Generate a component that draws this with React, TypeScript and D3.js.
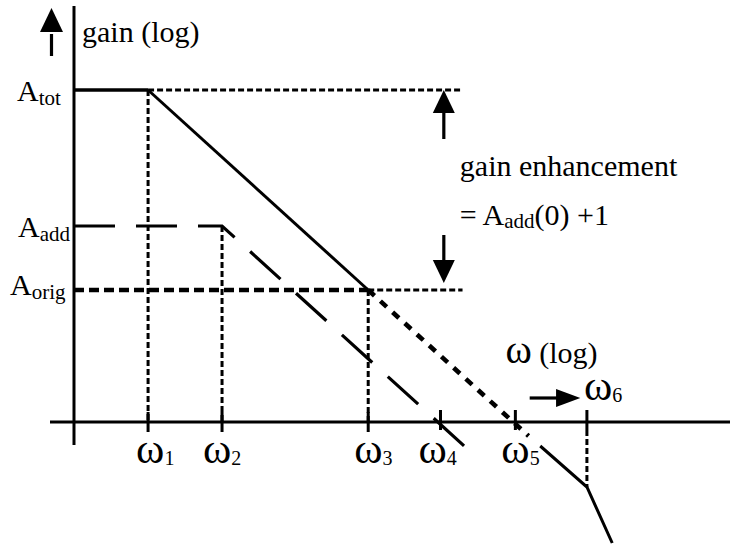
import React from 'react';
import * as d3 from 'd3';

// log10 of the break frequencies ω1..ω6
const omegaNames = ['1', '2', '3', '4', '5', '6'];
const omegaLog = [0.673, 1.345, 2.673, 3.33, 4.01, 4.66];
// log10 of the gain levels
const levelNames = ['tot', 'add', 'orig'];
const levelLog = [3.32, 1.96, 1.32];
// asymptotic curves: [log10 ω, log10 gain]
const totalCurve: [number, number][] = [[0, 3.32], [0.673, 3.32], [2.673, 1.32]];
const addCurve: [number, number][] = [[0, 1.96], [1.345, 1.96], [3.555, -0.25]];
const origTail: [number, number][] = [[2.673, 1.32], [4.13, -0.14]];
const hfCurve: [number, number][] = [[4.236, -0.24], [4.66, -0.65], [4.89, -1.21]];
const yTitle = 'gain (log)';
const xTitle = ' (log)';
const noteTitle = 'gain enhancement';

const W = 730;
const H = 545;
const serif = "'Liberation Serif','Times New Roman',serif";

// label layout (pixels)
const omegaDx = [-12, -19, -14, -22, -14, -3];
const levelX = [17, 18, 10];

export default function App() {
  const x = d3.scaleLinear().domain([-0.218, 5.96]).range([50, 730]);
  const y = d3.scaleLinear().domain([-1.23, 4.16]).range([545, 6]);
  const line = d3
    .line<[number, number]>()
    .x((d) => x(d[0]))
    .y((d) => y(d[1]));

  const x0 = x(0);
  const y0 = y(0);
  const [wTot, wAdd, wOrig] = levelLog;
  const noteX = x(3.36);
  const noteRight = x(3.53);

  const thin = { stroke: '#000', strokeWidth: 3, strokeDasharray: '6 3', fill: 'none' };

  return (
    <svg
      width={W}
      height={H}
      style={{ position: 'absolute', left: 0, top: 0, background: '#fff' }}
      fontFamily={serif}
    >
      <rect width={W} height={H} fill="#fff" />
      {/* axes */}
      <line x1={x0} x2={x0} y1={y(4.16)} y2={y(-0.23)} stroke="#000" strokeWidth={3} />
      <line x1={x(-0.218)} x2={x(5.96)} y1={y0} y2={y0} stroke="#000" strokeWidth={3} />

      {/* y axis arrow */}
      <line x1={x0 - 22.5} x2={x0 - 22.5} y1={y(3.66)} y2={y(3.88)} stroke="#000" strokeWidth={3.2} />
      <path
        d={`M${x0 - 22.5},${y(4.14)} L${x0 - 34},${y(3.9)} L${x0 - 11},${y(3.9)} Z`}
        fill="#000"
      />
      <text x={x0 + 8} y={y(3.8)} fontSize={30}>{yTitle}</text>

      {/* dashed guide lines at levels */}
      <line x1={x(omegaLog[0])} x2={noteRight} y1={y(wTot)} y2={y(wTot)} {...thin} />
      <line x1={x(omegaLog[2])} x2={noteRight} y1={y(wOrig)} y2={y(wOrig)} {...thin} />
      <line
        x1={x0}
        x2={x(omegaLog[2])}
        y1={y(wOrig)}
        y2={y(wOrig)}
        stroke="#000"
        strokeWidth={4.4}
        strokeDasharray="10 5"
      />

      {/* vertical guides */}
      <line x1={x(omegaLog[0])} x2={x(omegaLog[0])} y1={y(wTot)} y2={y0} {...thin} />
      <line x1={x(omegaLog[1])} x2={x(omegaLog[1])} y1={y(wAdd)} y2={y0} {...thin} />
      <line x1={x(omegaLog[2])} x2={x(omegaLog[2])} y1={y(wOrig)} y2={y0} {...thin} />
      <line x1={x(omegaLog[5])} x2={x(omegaLog[5])} y1={y(-0.08)} y2={y(-0.65)} {...thin} />

      {/* ticks */}
      {omegaLog.map((w, i) => (
        <line
          key={'t' + i}
          x1={x(w)}
          x2={x(w)}
          y1={i < 3 ? y(0.1) : y(0.12)}
          y2={i < 3 ? y(-0.1) : y(-0.08)}
          stroke="#000"
          strokeWidth={3}
        />
      ))}

      {/* curves */}
      <path d={line(totalCurve.slice(0, 2)) || ''} stroke="#000" strokeWidth={3.6} fill="none" />
      <path d={line(totalCurve.slice(1)) || ''} stroke="#000" strokeWidth={3} fill="none" />
      <path
        d={line(addCurve) || ''}
        stroke="#000"
        strokeWidth={3.2}
        strokeDasharray="41 21"
        fill="none"
      />
      <path
        d={line(origTail) || ''}
        stroke="#000"
        strokeWidth={4.6}
        strokeDasharray="8.5 8"
        fill="none"
      />
      <path d={line(hfCurve) || ''} stroke="#000" strokeWidth={3} fill="none" />

      {/* gain enhancement arrows */}
      <line x1={noteX} x2={noteX} y1={y(3.09)} y2={y(2.83)} stroke="#000" strokeWidth={3.2} />
      <path
        d={`M${noteX},${y(wTot)} L${noteX - 11},${y(3.09)} L${noteX + 11},${y(3.09)} Z`}
        fill="#000"
      />
      <line x1={noteX} x2={noteX} y1={y(1.87)} y2={y(1.6)} stroke="#000" strokeWidth={3.2} />
      <path
        d={`M${noteX},${y(1.39)} L${noteX - 11},${y(1.62)} L${noteX + 11},${y(1.62)} Z`}
        fill="#000"
      />
      <text x={noteX + 16} y={y(2.46)} fontSize={30}>{noteTitle}</text>
      <text x={noteX + 16} y={y(1.97)} fontSize={30}>
        {'= A'}
        <tspan fontSize={21} dy={3}>add</tspan>
        <tspan dy={-3}>(0) +1</tspan>
      </text>

      {/* level labels */}
      {levelLog.map((g, i) => (
        <text key={'l' + i} x={levelX[i]} y={y(g) + (i === 2 ? 5 : 11)} fontSize={30}>
          A
          <tspan fontSize={21} dy={4}>{levelNames[i]}</tspan>
        </text>
      ))}

      {/* omega labels */}
      {omegaLog.map((w, i) => (
        <text
          key={'o' + i}
          x={x(w) + omegaDx[i]}
          y={i === 5 ? y(0.22) : y(-0.41)}
          fontSize={43}
        >
          ω
          <tspan fontSize={20} dy={2}>{omegaNames[i]}</tspan>
        </text>
      ))}

      {/* x axis title and arrow */}
      <text x={x(3.92)} y={y(0.59)} fontSize={30}>
        <tspan fontSize={40}>ω</tspan>
        {xTitle}
      </text>
      <line x1={x(4.14)} x2={x(4.4)} y1={y(0.24)} y2={y(0.24)} stroke="#000" strokeWidth={3.2} />
      <path
        d={`M${x(4.6)},${y(0.24)} L${x(4.38)},${y(0.24) - 9} L${x(4.38)},${y(0.24) + 9} Z`}
        fill="#000"
      />
    </svg>
  );
}
